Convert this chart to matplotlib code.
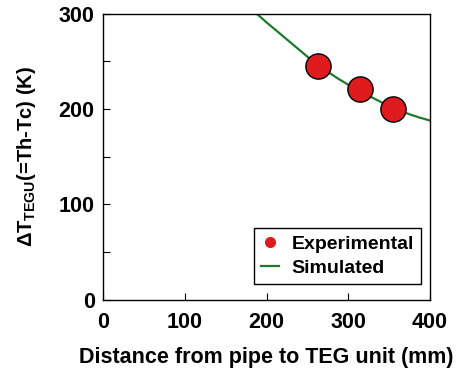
import matplotlib
matplotlib.use("Agg")
import matplotlib.pyplot as plt
from matplotlib.ticker import MultipleLocator
from matplotlib.lines import Line2D

plt.rcParams['font.family'] = ['Liberation Sans', 'DejaVu Sans']
plt.rcParams['font.weight'] = 'bold'
plt.rcParams['mathtext.fontset'] = 'custom'
plt.rcParams['mathtext.rm'] = 'Liberation Sans:bold'
plt.rcParams['mathtext.it'] = 'Liberation Sans:bold'
plt.rcParams['mathtext.bf'] = 'Liberation Sans:bold'

# Data
exp_x = [263, 314, 355]
exp_y = [245, 221, 200]
sim_x = [188, 200, 212.5, 225, 237.5, 250, 262.5, 275, 287.5, 300,
         312.5, 325, 337.5, 350, 362.5, 375, 387.5, 400]
sim_y = [300, 291, 282, 273, 264, 255, 246.5, 239, 232, 225.5,
         219.5, 214, 208.5, 203, 198.5, 194.5, 191, 188]

RED = '#e01b1e'
GREEN = '#1e7a2c'

fig = plt.figure(figsize=(4.63, 3.72), dpi=100)
ax = fig.add_axes([0.2225, 0.1944, 0.7062, 0.7686])

ax.plot(sim_x, sim_y, color=GREEN, lw=1.6, zorder=2, solid_joinstyle='round')
ax.scatter(exp_x, exp_y, s=330, color=RED, edgecolors='black', linewidths=1.0, zorder=3)

ax.set_xlim(0, 400)
ax.set_ylim(0, 300)
ax.xaxis.set_major_locator(MultipleLocator(100))
ax.yaxis.set_major_locator(MultipleLocator(100))
ax.yaxis.set_minor_locator(MultipleLocator(50))
ax.tick_params(which='both', direction='in', top=False, right=False, length=5, width=0.8,
               labelsize=15.5)
ax.tick_params(axis='y', pad=6)
ax.tick_params(axis='x', pad=9)
for lab in ax.get_xticklabels() + ax.get_yticklabels():
    lab.set_fontweight('bold')
for s in ax.spines.values():
    s.set_linewidth(1.0)

ax.set_xlabel('Distance from pipe to TEG unit (mm)', fontsize=15.5, fontweight='bold', labelpad=10)
ax.set_ylabel(r'$\Delta$T$_{\rm TEGU}$(=Th-Tc) (K)', fontsize=14.5, fontweight='bold', labelpad=15)

h_exp = Line2D([], [], marker='o', ls='none', color=RED, markersize=7)
h_sim = Line2D([], [], color=GREEN, lw=1.6)
leg = ax.legend([h_exp, h_sim], ['Experimental', 'Simulated'], loc='lower right',
                bbox_to_anchor=(0.972, 0.055), fancybox=False, framealpha=1,
                edgecolor='black', prop={'size': 14, 'weight': 'bold'},
                handlelength=0.95, handletextpad=0.65, borderpad=0.35, labelspacing=0.35,
                borderaxespad=0.0)
leg.get_frame().set_linewidth(1.0)

fig.savefig('out.png', dpi=100)
